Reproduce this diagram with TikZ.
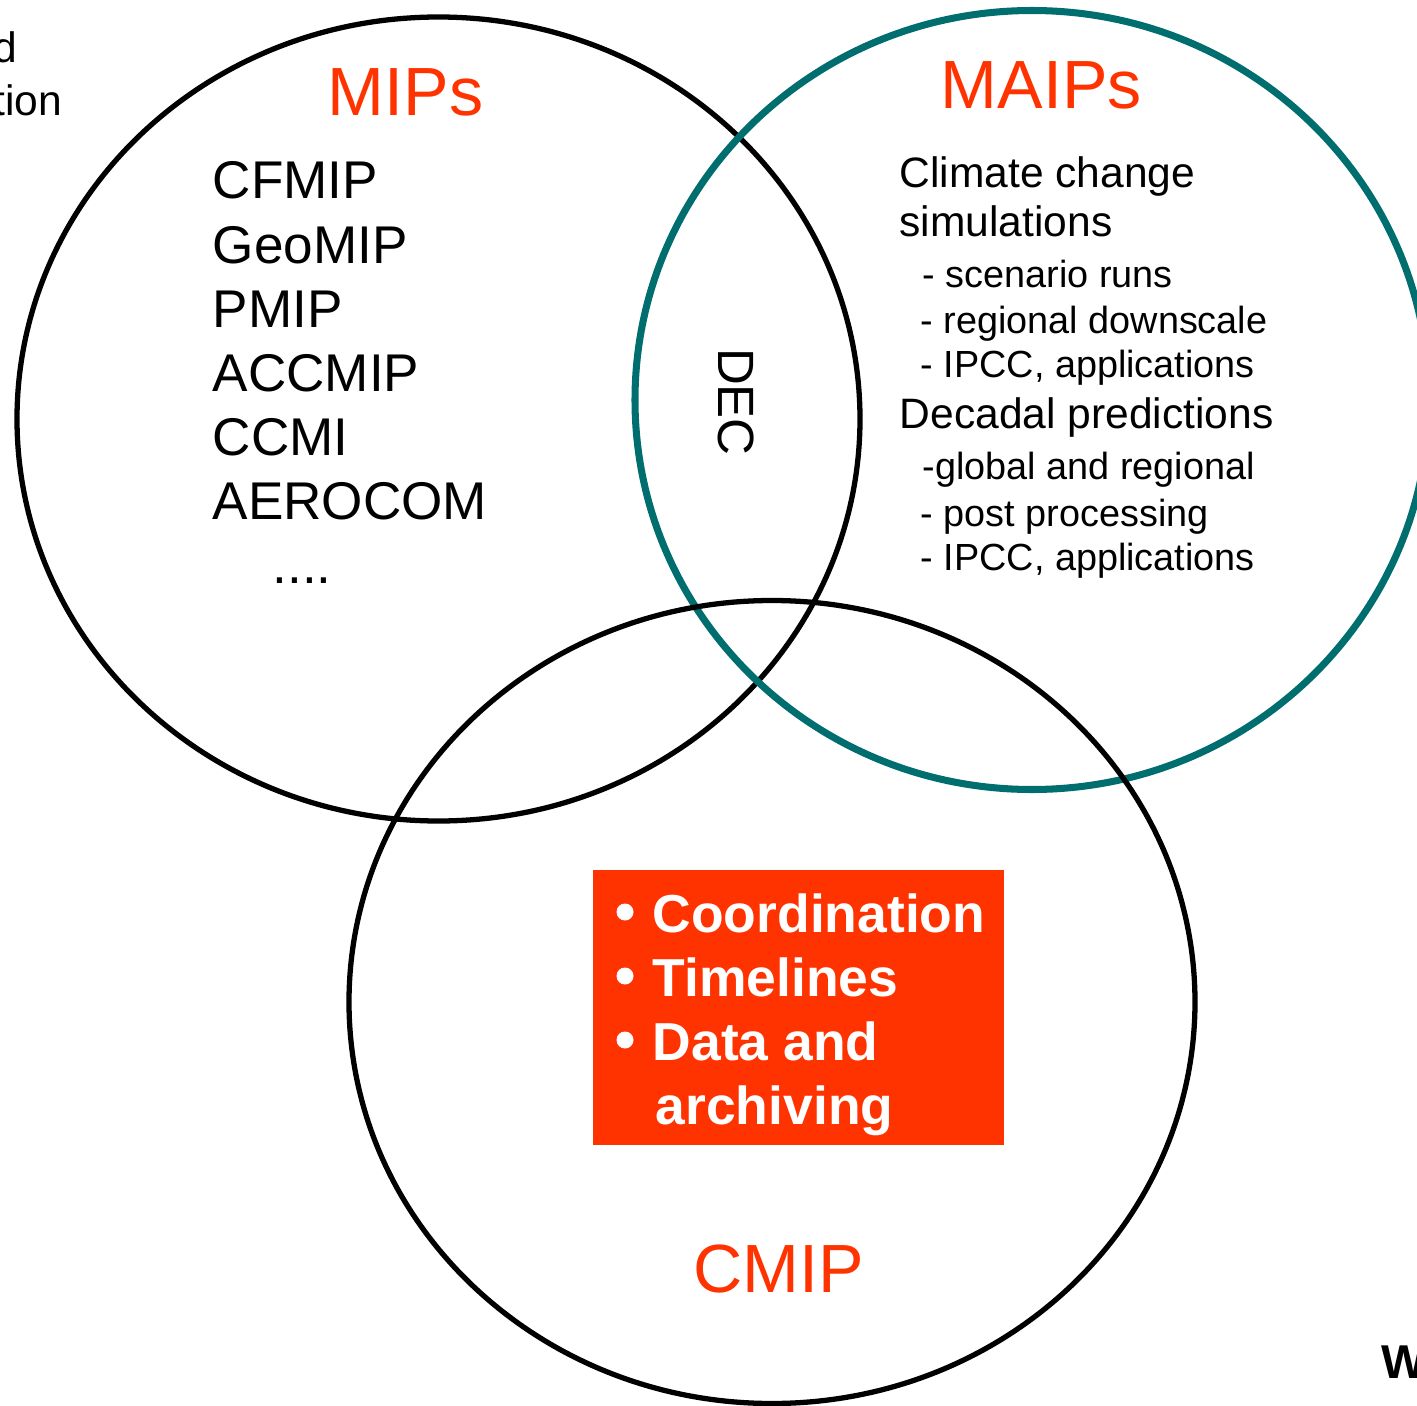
\documentclass[tikz,border=0pt]{standalone}
\usepackage{fontspec}
\setmainfont{Liberation Sans}
\definecolor{mipred}{RGB}{255,51,0}
\definecolor{teal2}{RGB}{0,110,110}
\newcommand{\fsz}[1]{\fontsize{#1}{#1}\selectfont}
\begin{document}
\begin{tikzpicture}[x=0.01cm,y=-0.01cm,
  venn/.style={draw=black,line width=1.5pt},
  venntl/.style={draw=teal2,line width=2pt},
  title/.style={anchor=base west,inner sep=0pt,text=mipred,font=\fsz{19.4pt}},
  mipitem/.style={anchor=base west,inner sep=0pt,font=\fsz{15.1pt}},
  rhead/.style={anchor=base west,inner sep=0pt,font=\fsz{12.1pt}},
  rsub/.style={anchor=base west,inner sep=0pt,font=\fsz{10.75pt}},
  boxtxt/.style={anchor=base west,inner sep=0pt,text=white,font=\bfseries\fsz{15.2pt}},
  redbox/.style={fill=mipred,inner sep=0pt,anchor=north west,minimum width=116.9pt,minimum height=78.2pt}
]
\useasboundingbox (0,0) rectangle (1417,1406);
% circles
\draw[venn] (438.5,419) ellipse [x radius=421.5, y radius=402];
\draw[venntl] (1032,400) ellipse [x radius=397, y radius=389.5];
\draw[venn] (772,1002) ellipse [x radius=423, y radius=401.5];
% titles
\node[title] (mips) at (327,115) {MIPs};
\node[title] (maips) at (940,108) {MAIPs};
\node[title] (cmip) at (693,1292) {CMIP};
% MIP list
\node[mipitem] (l1) at (212,199) {CFMIP};
\node[mipitem] (l2) at (212,263) {GeoMIP};
\node[mipitem] (l3) at (212,327) {PMIP};
\node[mipitem] (l4) at (212,391) {ACCMIP};
\node[mipitem] (l5) at (212,455) {CCMI};
\node[mipitem] (l6) at (212,519) {AEROCOM};
\node[mipitem] (l7) at (272,583) {....};
% DEC
\node[inner sep=0pt,rotate=-90,font=\fsz{14.5pt}] (dec) at (736,402) {DEC};
% MAIPs list
\node[rhead] (r1) at (899,187) {Climate change};
\node[rhead] (r2) at (899,236) {simulations};
\node[rsub] (r3) at (922,287) {- scenario runs};
\node[rsub] (r4) at (920,333) {- regional downscale};
\node[rsub] (r5) at (920,377) {- IPCC, applications};
\node[rhead] (r6) at (899,428) {Decadal predictions};
\node[rsub] (r7) at (922,479) {-global and regional};
\node[rsub] (r8) at (920,526) {- post processing};
\node[rsub] (r9) at (920,570) {- IPCC, applications};
% red box
\node[redbox] (box) at (592,869) {};
\fill[white] (625,912) circle (8.5);
\fill[white] (625,976) circle (8.5);
\fill[white] (625,1040) circle (8.5);
\node[boxtxt] (b1) at (652,932) {Coordination};
\node[boxtxt] (b2) at (652,996) {Timelines};
\node[boxtxt] (b3) at (652,1060) {Data and};
\node[boxtxt] (b4) at (655,1124) {archiving};
% cut-off fragments
\node[anchor=base east,inner sep=0pt,font=\fsz{12.1pt}] (frag1) at (18,62) {d};
\node[anchor=base east,inner sep=0pt,font=\fsz{12.1pt}] (frag2) at (63,116) {tion};
\node[anchor=base west,inner sep=0pt,font=\bfseries\fsz{13.5pt}] (frag3) at (1381,1378) {W};
\end{tikzpicture}
\end{document}
